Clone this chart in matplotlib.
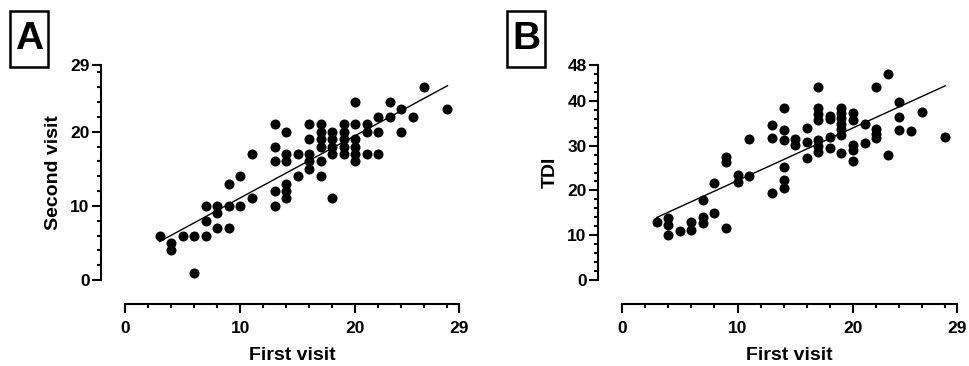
import numpy as np
import matplotlib
matplotlib.use('Agg')
import matplotlib.pyplot as plt
from matplotlib.patches import Rectangle
from matplotlib.ticker import FixedLocator

plt.rcParams['font.family'] = ['Liberation Sans', 'DejaVu Sans']
plt.rcParams['font.weight'] = 'bold'

# Panel A: first visit vs second visit
a_first = [3, 4, 4, 5, 6, 6, 7, 7, 7, 8, 8, 8, 9, 9, 9, 10, 10, 11, 11,
           13, 13, 13, 13, 13, 14, 14, 14, 14, 14, 14, 15, 15,
           16, 16, 16, 16, 16, 17, 17, 17, 17, 17, 17,
           18, 18, 18, 18, 18, 19, 19, 19, 19, 19,
           20, 20, 20, 20, 20, 20, 21, 21, 21, 22, 22, 22,
           23, 23, 24, 24, 25, 26, 28]
a_second = [6, 5, 4, 6, 6, 1, 6, 8, 10, 10, 9, 7, 10, 7, 13, 10, 14, 11, 17,
            10, 12, 16, 18, 21, 11, 12, 13, 16, 17, 20, 14, 17,
            15, 16, 17, 19, 21, 21, 20, 19, 18, 16, 14,
            20, 19, 18, 17, 11, 21, 20, 19, 18, 17,
            24, 21, 19, 18, 17, 16, 21, 20, 17, 22, 20, 17,
            24, 22, 23, 20, 22, 26, 23]

# Panel B: first visit vs TDI
b_first = [3, 4, 4, 4, 5, 6, 6, 7, 7, 7, 8, 8, 9, 9, 9, 10, 10, 11, 11,
           13, 13, 13, 14, 14, 14, 14, 14, 14, 15, 15, 16, 16, 16,
           17, 17, 17, 17, 17, 17, 17, 18, 18, 18, 18,
           19, 19, 19, 19, 19, 19, 19, 20, 20, 20, 20, 20,
           21, 21, 22, 22, 22, 22, 23, 23, 24, 24, 24, 25, 26, 28]
b_tdi = [13.0, 13.8, 12.3, 10.0, 10.9, 13.0, 11.2, 17.9, 14.0, 12.8, 21.6, 14.9,
         27.5, 26.4, 11.7, 23.4, 21.9, 31.5, 23.2,
         34.6, 31.7, 19.5, 38.5, 33.5, 31.3, 25.3, 22.3, 20.5, 31.4, 30.1,
         34.0, 30.9, 27.3,
         43.0, 38.3, 37.1, 35.7, 31.3, 29.9, 28.6, 36.7, 35.9, 32.0, 29.5,
         38.3, 37.2, 36.1, 34.9, 33.8, 32.4, 28.4, 37.2, 35.7, 30.1, 29.0, 26.6,
         34.8, 30.5, 43.0, 33.8, 32.7, 31.6, 46.0, 27.8, 39.8, 36.5, 33.5,
         33.3, 37.4, 32.0]

x_ticks = [0, 10, 20, 29]
a_yticks = [0, 10, 20, 29]
b_yticks = [0, 10, 20, 30, 40, 48]

fig = plt.figure(figsize=(9.69, 3.66), dpi=100)
axA = fig.add_axes([125 / 969, 86 / 366, 334 / 969, 215 / 366])
axB = fig.add_axes([622 / 969, 86 / 366, 335 / 969, 215 / 366])


def style_axis(ax, ymax, yticks, ylabel):
    ax.set_xlim(0, 29)
    ax.set_ylim(0, ymax)
    for side in ['top', 'right']:
        ax.spines[side].set_visible(False)
    for side in ['left', 'bottom']:
        ax.spines[side].set_position(('outward', 17))
        ax.spines[side].set_linewidth(1.5)
    ax.xaxis.set_major_locator(FixedLocator(x_ticks))
    ax.xaxis.set_minor_locator(FixedLocator(np.arange(0, 30, 2)))
    ax.yaxis.set_major_locator(FixedLocator(yticks))
    ax.yaxis.set_minor_locator(FixedLocator(np.arange(0, ymax + 1, 2)))
    ax.tick_params(which='major', length=6.5, width=1.5, labelsize=12.5, pad=2)
    ax.tick_params(which='minor', length=3.2, width=1.5)
    ax.tick_params(axis='x', which='major', pad=6)
    for lab in ax.get_xticklabels() + ax.get_yticklabels():
        lab.set_fontweight('bold')
    ax.set_xlabel('First visit', fontsize=14, fontweight='bold', labelpad=8)
    ax.set_ylabel(ylabel, fontsize=14, fontweight='bold', labelpad=6)


def scatter_fit(ax, x, y):
    x = np.array(x, dtype=float)
    y = np.array(y, dtype=float)
    ax.scatter(x, y, s=52, color='black', linewidths=0, clip_on=False, zorder=3)
    slope, icpt = np.polyfit(x, y, 1)
    xs = np.array([x.min(), x.max()])
    ax.plot(xs, slope * xs + icpt, color='black', linewidth=1.0, zorder=2)


scatter_fit(axA, a_first, a_second)
scatter_fit(axB, b_first, b_tdi)
style_axis(axA, 29, a_yticks, 'Second visit')
style_axis(axB, 48, b_yticks, 'TDI')

# panel letters in boxes
for x0, letter in [(10, 'A'), (507, 'B')]:
    fig.patches.append(Rectangle((x0 / 969, (366 - 67) / 366), 38 / 969, 56 / 366,
                                 transform=fig.transFigure, fill=False,
                                 edgecolor='black', linewidth=1.8))
    fig.text((x0 + 19) / 969, (366 - 39) / 366, letter, fontsize=28,
             fontweight='bold', ha='center', va='center')

fig.savefig('out.png', dpi=100)
